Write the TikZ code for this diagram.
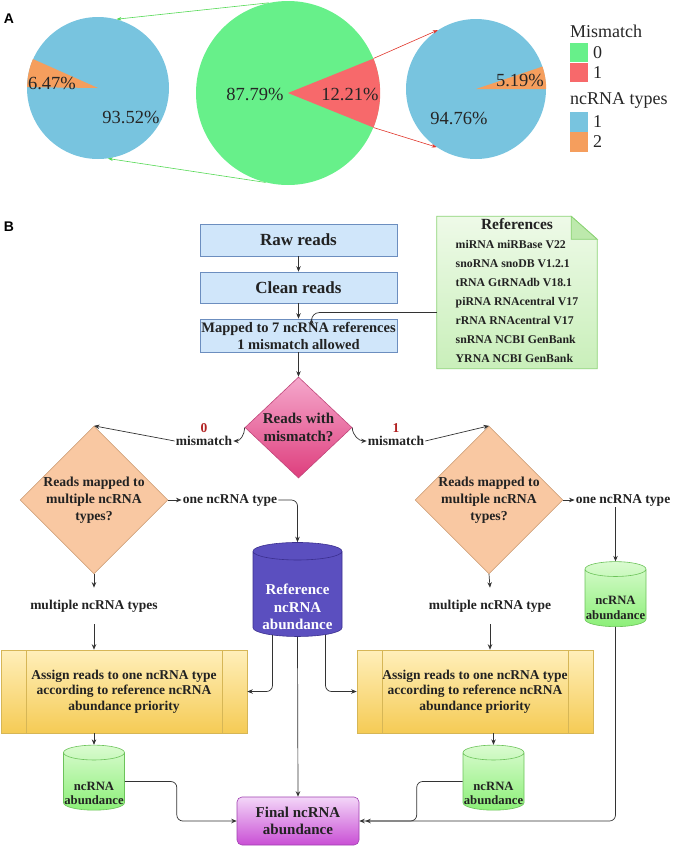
\documentclass[tikz,border=0pt]{standalone}
\usepackage{fontspec}
\setmainfont{Liberation Serif}
\newfontfamily\panelfont{Liberation Sans}
\usepackage{xcolor}
\usetikzlibrary{positioning,shapes.geometric,arrows.meta,calc,backgrounds}

\definecolor{piegreen}{HTML}{67F08A}
\definecolor{piered}{HTML}{F7696B}
\definecolor{pieblue}{HTML}{78C4DF}
\definecolor{pieorange}{HTML}{F59E5D}
\definecolor{linkgreen}{HTML}{55D955}
\definecolor{linkred}{HTML}{E0352A}
\definecolor{boxblue}{HTML}{D0E6FA}
\definecolor{boxblueline}{HTML}{6C8EBF}
\definecolor{notetop}{HTML}{EEFAE8}
\definecolor{notebot}{HTML}{C9EFBA}
\definecolor{noteline}{HTML}{8BD374}
\definecolor{pinktop}{HTML}{F5A8CC}
\definecolor{pinkbot}{HTML}{DE3E7D}
\definecolor{pinkline}{HTML}{C0467A}
\definecolor{peach}{HTML}{F9C8A2}
\definecolor{peachline}{HTML}{C9956A}
\definecolor{slate}{HTML}{5B4FBF}
\definecolor{slateline}{HTML}{3B2F8F}
\definecolor{cyltop}{HTML}{DAFBD0}
\definecolor{cylbot}{HTML}{8CEF78}
\definecolor{cylline}{HTML}{6CC35A}
\definecolor{goldtop}{HTML}{FFEFBA}
\definecolor{goldbot}{HTML}{F5CB55}
\definecolor{goldline}{HTML}{D6B656}
\definecolor{violettop}{HTML}{F3D6F8}
\definecolor{violetbot}{HTML}{C94FD5}
\definecolor{violetline}{HTML}{A040B0}
\definecolor{numred}{HTML}{B22222}
\definecolor{ink}{HTML}{222222}

\tikzset{
  pietext/.style={font=\fontsize{18.5}{20}\selectfont, text=black!85, inner sep=0pt},
  legtext/.style={font=\fontsize{18}{20}\selectfont, text=black!85, inner sep=0pt},
  piearrow/.style={line width=0.6pt, -{Stealth[length=5pt,width=3.5pt]}},
  bluebox/.style={rectangle, draw=boxblueline, fill=boxblue, line width=0.6pt,
    minimum width=197, inner sep=0pt, text=ink, align=center},
  diam/.style={diamond, inner sep=0pt, line width=0.6pt, text=ink, align=center},
  cyl/.style={cylinder, shape border rotate=90, aspect=0.25, inner sep=0pt,
    line width=0.6pt},
  cyltext/.style={align=center, inner sep=0pt},
  greencyl/.style={cyl, draw=cylline, top color=cyltop, bottom color=cylbot,
    minimum width=61, minimum height=65, font=\bfseries\fontsize{12.7}{14.5}\selectfont},
  greentext/.style={cyltext, text=ink, font=\bfseries\fontsize{12.7}{14.5}\selectfont},
  procbox/.style={rectangle, draw=goldline, top color=goldtop, bottom color=goldbot,
    line width=0.6pt, minimum height=83, inner sep=0pt, align=center, text=ink,
    font=\bfseries\fontsize{13.5}{15.5}\selectfont,
    path picture={\draw[goldline, line width=0.6pt]
      ([xshift=25]path picture bounding box.north west) -- ([xshift=25]path picture bounding box.south west)
      ([xshift=-25]path picture bounding box.north east) -- ([xshift=-25]path picture bounding box.south east);}},
  lbl/.style={font=\bfseries\fontsize{13.5}{15}\selectfont, text=ink, inner sep=1pt},
  num/.style={font=\bfseries\fontsize{13.5}{15}\selectfont, text=numred, inner sep=0pt},
  arr/.style={draw=black!80, line width=0.7pt, -{Stealth[length=5.5pt,width=4.5pt]}}
}

\begin{document}
\begin{tikzpicture}[x=1pt,y=1pt]
\useasboundingbox (0,0) rectangle (673,-847);

\node[font=\panelfont\bfseries\fontsize{14}{14}\selectfont] (panelA) at (9,-19) {A};
\node[font=\panelfont\bfseries\fontsize{14}{14}\selectfont] (panelB) at (9,-227) {B};

% panel A: pies
\node[circle, fill=pieblue, minimum size=142, inner sep=0pt] (pleft) at (98,-88) {};
\node[circle, fill=piegreen, minimum size=184, inner sep=0pt] (pmid) at (288,-93) {};
\node[circle, fill=pieblue, minimum size=140, inner sep=0pt] (pright) at (476,-89) {};
\fill[pieorange] (pleft.center) -- (pleft.156.7) arc[start angle=156.7, end angle=180, radius=71] -- cycle;
\fill[piered] (pmid.center) -- (pmid.-22) arc[start angle=-22, end angle=22, radius=92] -- cycle;
\fill[pieorange] (pright.center) -- (pright.0) arc[start angle=0, end angle=18.7, radius=70] -- cycle;

\node[pietext] (pl1) at (52,-83) {6.47\%};
\node[pietext] (pl2) at (131,-117) {93.52\%};
\node[pietext] (pm1) at (255,-94) {87.79\%};
\node[pietext] (pm2) at (350,-94) {12.21\%};
\node[pietext] (pr1) at (520,-80) {5.19\%};
\node[pietext] (pr2) at (459,-118) {94.76\%};

\draw[piearrow, linkgreen] (pmid.102) -- (pleft.75);
\draw[piearrow, linkgreen] (pmid.-104) -- (pleft.-82);
\draw[piearrow, linkred] (pmid.22) -- (pright.123);
\draw[piearrow, linkred] (pmid.-22) -- (pright.-124);

\node[legtext, anchor=west] (legmis) at (570,-31) {Mismatch};
\node[legtext, anchor=west] (legtyp) at (570,-100) {ncRNA types};
\foreach \col/\txt/\yy in {piegreen/0/52.5, piered/1/72.5, pieblue/1/122, pieorange/2/142}{
  \fill[\col] (570,-\yy+9.7) rectangle (588,-\yy-9.7);
  \node[legtext, anchor=west] (leg-\col) at (593,-\yy) {\txt};
}

% panel B: flow chart
\node[bluebox, minimum height=32, font=\bfseries\fontsize{17}{20}\selectfont] (raw) at (298.5,-240) {Raw reads};
\node[bluebox, minimum height=31, font=\bfseries\fontsize{17}{20}\selectfont] (clean) at (298.5,-287.5) {Clean reads};
\node[bluebox, minimum height=33, font=\bfseries\fontsize{14.5}{17}\selectfont] (mapped) at (298.5,-335.5)
  {Mapped to 7 ncRNA references\\1 mismatch allowed};

\node[minimum width=160, minimum height=151, inner sep=0pt, text=ink,
  font=\bfseries\fontsize{11.8}{19}\selectfont] (refs) at (517,-292.5)
  {\begin{tabular}{@{}l@{}}
   \multicolumn{1}{@{}c@{}}{\fontsize{15.5}{19}\selectfont References}\\
   miRNA miRBase V22\\
   snoRNA snoDB V1.2.1\\
   tRNA GtRNAdb V18.1\\
   piRNA RNAcentral V17\\
   rRNA RNAcentral V17\\
   snRNA NCBI GenBank\\
   YRNA NCBI GenBank
   \end{tabular}};
\begin{scope}[on background layer]
\draw[noteline, line width=0.8pt, top color=notetop, bottom color=notebot]
  (refs.north west) -- ([xshift=-26]refs.north east) -- ([yshift=-23]refs.north east)
  -- (refs.south east) -- (refs.south west) -- cycle;
\draw[noteline, line width=0.8pt, fill=notebot!80!noteline]
  ([xshift=-26]refs.north east) -- ([xshift=-26,yshift=-23]refs.north east) -- ([yshift=-23]refs.north east) -- cycle;
\end{scope}

\node[diam, draw=pinkline, top color=pinktop, bottom color=pinkbot, minimum width=107, minimum height=101,
  font=\bfseries\fontsize{15}{18}\selectfont] (ask) at (298.5,-427.5) {Reads with\\mismatch?};
\node[diam, draw=peachline, fill=peach, minimum width=146, minimum height=121,
  font=\bfseries\fontsize{13.7}{17}\selectfont] (lor) at (94,-500) {Reads mapped to\\multiple ncRNA\\types?};
\node[diam, draw=peachline, fill=peach, minimum width=142, minimum height=121,
  font=\bfseries\fontsize{13.7}{17}\selectfont] (ror) at (489,-500) {Reads mapped to\\multiple ncRNA\\types?};

\node[lbl, label={[num, label distance=2pt]above:0}] (m0) at (204,-441) {mismatch};
\node[lbl, label={[num, label distance=2pt]above:1}] (m1) at (396,-441) {mismatch};
\node[lbl] (one1) at (230,-500) {one ncRNA type};
\node[lbl] (one2) at (623,-500) {one ncRNA type};
\node[lbl, inner ysep=12pt] (multi1) at (94,-606) {multiple ncRNA types};
\node[lbl, inner ysep=12pt] (multi2) at (490,-606) {multiple ncRNA type};

\node[cyl, draw=slateline, fill=slate, minimum width=89, minimum height=94,
  font=\bfseries\fontsize{15}{17.5}\selectfont] (refcyl) at (297.5,-594) {\phantom{abundance}};
\node[cyltext, text=white, font=\bfseries\fontsize{15}{17.5}\selectfont] (refcyltext)
  at ([yshift=-13]refcyl.center) {Reference\\ncRNA\\abundance};
\node[greencyl] (rgc) at (615.5,-598) {\phantom{abundance}};
\node[greentext] (rgctext) at ([yshift=-10]rgc.center) {ncRNA\\abundance};

\node[procbox, minimum width=246] (lbox) at (124,-691.5)
  {Assign reads to one ncRNA type\\according to reference ncRNA\\abundance priority};
\node[procbox, minimum width=236] (rbox) at (475,-691.5)
  {Assign reads to one ncRNA type\\according to reference ncRNA\\abundance priority};

\node[greencyl] (lsc) at (94,-781.5) {\phantom{abundance}};
\node[greentext] (lsctext) at ([yshift=-12]lsc.center) {ncRNA\\abundance};
\node[greencyl] (rsc) at (493.5,-781.5) {\phantom{abundance}};
\node[greentext] (rsctext) at ([yshift=-12]rsc.center) {ncRNA\\abundance};

\node[rectangle, rounded corners=5pt, draw=violetline, top color=violettop, bottom color=violetbot,
  line width=0.6pt, minimum width=122, minimum height=48, inner sep=0pt, align=center, text=ink,
  font=\bfseries\fontsize{15}{17}\selectfont] (final) at (298,-821) {Final ncRNA\\abundance};

\draw[arr] (raw) -- (clean);
\draw[arr] (clean) -- (mapped);
\draw[arr] (mapped) -- (ask);
\draw[arr, rounded corners=8pt] ([yshift=-20]refs.west) -| ([xshift=13]mapped.north);
\draw[arr] (ask.west) to[out=-90, in=0] (m0.east);
\draw[arr] (m0.west) -- (lor.north);
\draw[arr] (ask.east) to[out=-90, in=180] (m1.west);
\draw[arr] (m1.east) -- (ror.north);
\draw[arr] (lor.east) -- (one1.west);
\draw[arr, rounded corners=6pt] (one1.east) -| (refcyl.north);
\draw[arr] (lor.south) -- (multi1.north);
\draw[arr] (multi1.south) -- (multi1.south |- lbox.north);
\draw[arr] (ror.east) -- (one2.west);
\draw[arr] (one2.south -| rgc.north) -- (rgc.north);
\draw[arr] (ror.south) -- (multi2.north);
\draw[arr] (multi2.south) -- (multi2.south |- rbox.north);
\draw[arr, rounded corners=6pt] ([xshift=-25,yshift=2]refcyl.south) |- (lbox.east);
\draw[arr, rounded corners=6pt] ([xshift=28,yshift=2]refcyl.south) |- (rbox.west);
\draw[arr] (refcyl.south) -- (final.north);
\draw[arr] (lsc.north |- lbox.south) -- (lsc.north);
\draw[arr] (rsc.north |- rbox.south) -- (rsc.north);
\draw[arr, rounded corners=6pt] (lsc.east) -- ++(52,0) |- (final.west);
\draw[arr, rounded corners=6pt] (rsc.west) -- ++(-46,0) |- (final.east);
\draw[arr, rounded corners=6pt] (rgc.south) |- ([xshift=6]final.east);
\end{tikzpicture}
\end{document}
